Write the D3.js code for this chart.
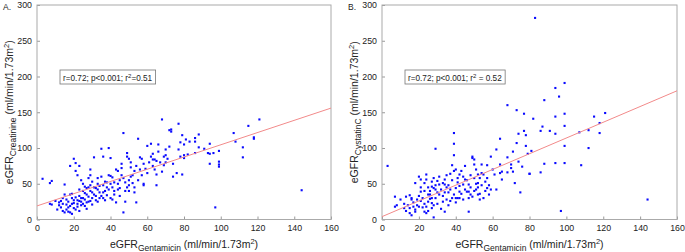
<!DOCTYPE html>
<html>
<head>
<meta charset="utf-8">
<script src="https://cdn.jsdelivr.net/npm/d3@7"></script>
<style>
body { margin: 0; background: #fff; }
text { font-family: Arial, "Liberation Sans", sans-serif; fill: #222; }
</style>
</head>
<body>
<script>
// eGFR gentamicin (x) vs eGFR creatinine (y), panel A
let creatininePoints = [
  [3,57],[7,51],[8,54],[7,22],[8,21],
  [10,26],[11,14],[12,20],[12,24],[13,17],[14,30],[14,12],[15,10],[15,35],[15,49],
  [16,21],[16,14],[17,17],[17,25],[18,10],[18,35],[18,75],[19,36],[19,22],[20,85],[20,27],[20,16],[19,8],
  [21,79],[21,68],[22,62],[22,22],[22,18],[23,26],[23,12],[23,75],[23,42],[24,55],[24,30],[24,20],[25,50],[25,40],[25,22],
  [26,37],[26,28],[27,44],[27,24],[27,15],[28,58],[28,45],[28,32],[29,70],[29,62],[29,26],[29,48],[30,38],[30,21],[30,53],
  [31,87],[31,35],[32,44],[32,27],[33,58],[33,42],[33,25],[34,47],[34,30],[35,99],[35,60],[35,33],
  [36,88],[36,48],[36,38],[37,27],[37,53],[38,45],[38,34],[39,100],[39,62],[39,42],[40,86],[40,61],[40,30],
  [41,59],[41,28],[42,52],[42,40],[43,70],[43,24],[44,68],[44,50],[45,44],[45,33],
  [46,78],[46,72],[47,121],[47,10],[47,58],[48,40],[48,25],[49,88],[49,93],[50,85],[50,55],[50,48],[50,40],
  [51,80],[51,73],[52,62],[52,51],[53,45],[53,38],[54,24],[54,75],[55,113],
  [56,87],[57,85],[57,62],[58,50],[58,48],[59,71],[60,103],
  [62,106],[62,88],[63,75],[63,84],[64,84],[64,70],[65,82],[65,63],[65,48],[66,105],
  [67,80],[68,140],[68,67],[69,76],[70,98],[70,90],[70,80],
  [71,85],[72,125],[72,102],[73,126],[73,123],[74,60],[74,78],
  [76,65],[77,134],[77,98],[78,88],[79,63],[80,105],[80,90],
  [78,108],[79,118],[81,112],[83,109],[86,114],[86,109],[88,119],[88,101],[86,93],[91,99],
  [94,106],[93,93],[94,92],[96,93],[99,96],[99,81],[99,77],[99,74],[94,78],[82,91],[80,86],[97,17],
  [107,121],[108,109],[112,101],[112,87],[115,131],[118,113],[118,115],[121,140],[144,41],
  [13,26],[14,22],[16,28],[17,11],[18,19],[19,30],[20,23],[21,14],[21,31],[22,27],[23,33],[24,25],
  [25,30],[26,19],[26,46],[27,35],[28,25],[29,40],[30,30],[31,45],[32,33],[33,50],[34,38],[36,30],
  [37,40],[38,52],[40,50],[41,45],[42,35],[44,42],[45,55],[46,62],[48,52],[49,45],[51,60],[53,68],
  [55,55],[56,70],[58,78],[60,65],[61,80],[63,92],[66,95],[69,88]
];

// eGFR gentamicin (x) vs eGFR cystatin C (y), panel B
let cystatinPoints = [
  [3,75],[7,32],[7,18],[8,20],[10,28],[12,16],[13,32],[15,34],[16,28],[15,16],[15,9],[16,6],
  [17,18],[18,11],[19,20],[18,51],[20,60],[21,56],[21,39],[21,26],[22,17],[23,11],[24,9],
  [23,51],[24,63],[24,56],[25,35],[25,25],[26,35],[26,29],[27,23],[27,16],[28,3],[27,53],
  [27,46],[28,44],[29,42],[29,99],[30,54],[31,49],[31,35],[33,25],[34,11],
  [33,51],[34,49],[35,45],[36,38],[37,26],[37,64],[38,76],[39,121],[39,106],[39,90],
  [40,70],[41,52],[42,39],[41,30],[40,30],[42,63],[44,60],[44,49],[45,56],[46,39],[47,11],
  [47,49],[47,39],[48,35],[49,88],[49,86],[50,84],[50,77],[51,70],[52,63],[52,51],[51,42],
  [52,35],[53,28],[54,77],[54,65],[55,63],[56,53],[57,44],[57,76],[58,35],[59,88],[60,70],
  [61,63],[62,42],[62,98],[64,65],[64,113],[64,77],[65,56],[65,67],[68,66],[68,87],[68,160],
  [70,77],[70,72],[71,67],[71,95],[72,51],[73,107],[73,153],[74,120],[74,81],[75,38],[76,74],
  [77,124],[77,148],[78,103],[78,118],[79,92],[80,64],
  [83,282],[94,184],[99,191],[88,167],[96,172],[82,141],[87,130],[86,124],[91,124],[94,144],
  [94,120],[99,148],[99,131],[81,96],[88,78],[94,79],[99,79],[99,103],[80,64],[86,66],[97,12],
  [107,122],[108,76],[112,125],[112,100],[115,144],[118,135],[118,121],[121,149],[144,28],
  [12,22],[13,12],[14,20],[16,30],[17,24],[18,14],[19,28],[20,18],[20,33],[21,45],[22,30],
  [23,22],[23,40],[24,18],[25,45],[25,12],[26,40],[27,30],[28,20],[28,58],[29,30],[29,48],
  [30,38],[30,22],[31,60],[32,42],[32,15],[33,33],[34,56],[34,38],[35,28],[35,62],[36,48],
  [36,20],[37,42],[38,30],[38,55],[39,35],[39,68],[40,44],[40,24],[41,58],[42,30],[42,47],
  [43,36],[43,68],[44,28],[45,42],[45,75],[46,55],[47,30],[48,45],[48,62],[49,32],[50,40],
  [50,58],[51,50],[52,45],[53,36],[53,58],[54,48],[55,30],[56,40],[57,58],[58,48],[59,42]
];

// regression lines: [intercept, slope]
let creatinineFit = [19, 0.855];
let cystatinFit = [4, 1.1];

let xTicks = [0, 20, 40, 60, 80, 100, 120, 140, 160];
let yTicks = [0, 50, 100, 150, 200, 250, 300];

let panels = [
  {letter: "A.", sub: "Creatinine", points: creatininePoints, fit: creatinineFit,
   stats: ["r=0.72; p<0.001; r", "2", "=0.51"], left: 37, right: 331},
  {letter: "B.", sub: "CystatinC", points: cystatinPoints, fit: cystatinFit,
   stats: ["r=0.72; p<0.001; r", "2", " = 0.52"], left: 382, right: 677}
];

let plotTop = 5, plotBottom = 219.5;

let svg = d3.select("body").append("svg")
  .attr("width", 685)
  .attr("height", 252);

panels.forEach((p, i) => {
  let x = d3.scaleLinear().domain([0, 160]).range([p.left, p.right]);
  let y = d3.scaleLinear().domain([0, 300]).range([plotBottom, plotTop]);

  let g = svg.append("g");

  // axes with inward ticks
  let xAxis = d3.axisBottom(x).tickValues(xTicks).tickSizeInner(-3).tickSizeOuter(0).tickPadding(5);
  let yAxis = d3.axisLeft(y).tickValues(yTicks).tickSizeInner(-3).tickSizeOuter(0).tickPadding(5);

  let xg = g.append("g").attr("transform", "translate(0," + plotBottom + ")").call(xAxis);
  let yg = g.append("g").attr("transform", "translate(" + p.left + ",0)").call(yAxis);
  [xg, yg].forEach(a => {
    a.select(".domain").remove();
    a.selectAll("line").attr("stroke", "#999");
    a.selectAll("text").attr("font-size", 8.8).attr("fill", "#222")
      .style("font-family", "Arial, 'Liberation Sans', sans-serif");
  });

  // frame
  g.append("rect")
    .attr("x", p.left).attr("y", plotTop)
    .attr("width", p.right - p.left).attr("height", plotBottom - plotTop)
    .attr("fill", "none").attr("stroke", "#aaa").attr("stroke-width", 1);

  // clip for the line
  let clipId = "clip" + i;
  g.append("clipPath").attr("id", clipId)
    .append("rect").attr("x", p.left).attr("y", plotTop)
    .attr("width", p.right - p.left).attr("height", plotBottom - plotTop);

  // points
  g.append("g").selectAll("rect")
    .data(p.points)
    .enter()
    .append("rect")
    .attr("x", d => x(d[0]) - 1)
    .attr("y", d => y(d[1]) - 1)
    .attr("width", 2.1)
    .attr("height", 2.1)
    .attr("fill", "#0a0aff");

  // regression line
  g.append("line")
    .attr("clip-path", "url(#" + clipId + ")")
    .attr("x1", x(0)).attr("y1", y(p.fit[0]))
    .attr("x2", x(160)).attr("y2", y(p.fit[0] + p.fit[1] * 160))
    .attr("stroke", "#f28a8a").attr("stroke-width", 1);

  // stats box
  let box = g.append("rect");
  let st = g.append("text")
    .attr("x", p.left + 26).attr("y", 81)
    .attr("font-size", 8.2);
  st.append("tspan").text(p.stats[0]);
  st.append("tspan").attr("dy", -3).attr("font-size", 6).text(p.stats[1]);
  st.append("tspan").attr("dy", 3).text(p.stats[2]);
  let bb = st.node().getBBox();
  box.attr("x", bb.x - 3).attr("y", 70)
    .attr("width", bb.width + 6).attr("height", 14)
    .attr("fill", "#fff").attr("stroke", "#777").attr("stroke-width", 0.8);

  // panel letter
  g.append("text")
    .attr("x", p.left - 34).attr("y", 10)
    .attr("font-size", 8.5)
    .text(p.letter);

  // x axis title
  let xt = g.append("text")
    .attr("x", (p.left + p.right) / 2).attr("y", 247.5)
    .attr("text-anchor", "middle")
    .attr("font-size", 10.5);
  xt.append("tspan").text("eGFR");
  xt.append("tspan").attr("dy", 3).attr("font-size", 8.5).text("Gentamicin");
  xt.append("tspan").attr("dy", -3).text(" (ml/min/1.73m");
  xt.append("tspan").attr("dy", -4).attr("font-size", 7.5).text("2");
  xt.append("tspan").attr("dy", 4).text(")");

  // y axis title
  let yt = g.append("text")
    .attr("transform", "translate(" + (p.left - 24.5) + "," + ((plotTop + plotBottom) / 2) + ") rotate(-90)")
    .attr("text-anchor", "middle")
    .attr("font-size", 10.5);
  yt.append("tspan").text("eGFR");
  yt.append("tspan").attr("dy", 3).attr("font-size", 8.5).text(p.sub);
  yt.append("tspan").attr("dy", -3).text(" (ml/min/1.73m");
  yt.append("tspan").attr("dy", -4).attr("font-size", 7.5).text("2");
  yt.append("tspan").attr("dy", 4).text(")");
});
</script>
</body>
</html>
